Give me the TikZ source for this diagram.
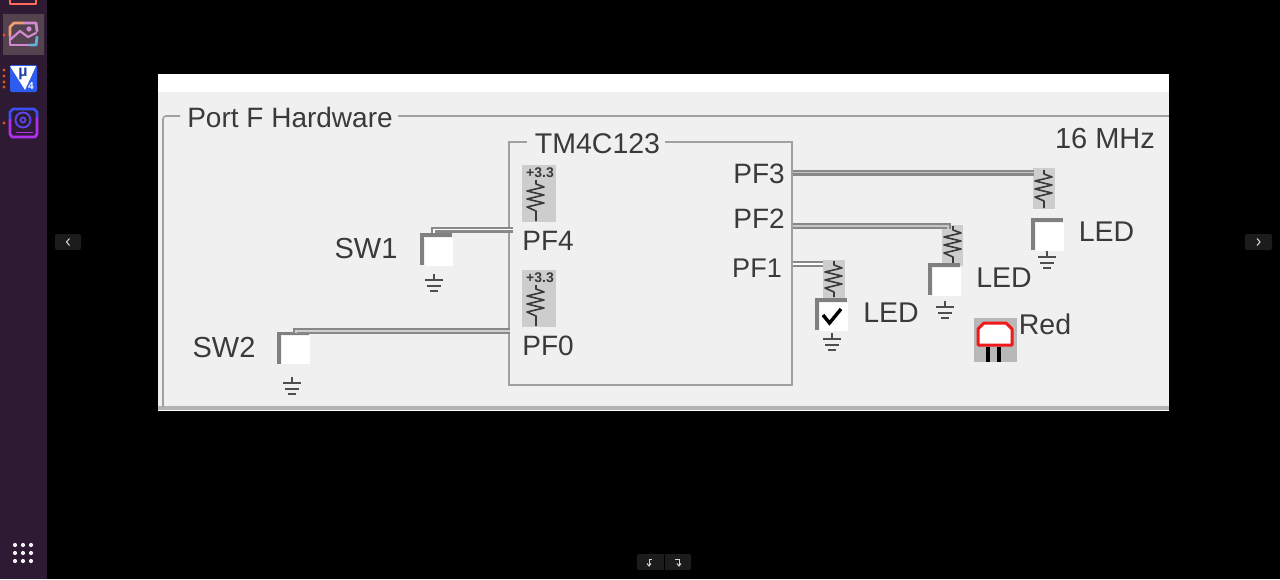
\documentclass[tikz,border=0pt]{standalone}
\usepackage{fontspec}
\setmainfont{Liberation Sans}
\usetikzlibrary{calc}
\definecolor{panel}{HTML}{F0F0F0}
\definecolor{ink}{HTML}{3A3A3A}
\definecolor{frameg}{HTML}{A0A0A0}
\definecolor{resbg}{HTML}{CDCDCD}
\definecolor{sidebar}{HTML}{2E1B33}
\definecolor{hl}{HTML}{54424F}
\definecolor{btn}{HTML}{1C1C1C}
\definecolor{dotor}{HTML}{E0521E}
\definecolor{icopink}{HTML}{D08AD0}
\definecolor{icoorange}{HTML}{F0A070}
\definecolor{icocyan}{HTML}{60B0D8}
\definecolor{icored}{HTML}{FF6A5A}
\definecolor{icoblue}{HTML}{2F5CF0}
\definecolor{icoviolet}{HTML}{B030F0}
\definecolor{iconavy}{HTML}{3A50F0}
\definecolor{ledred}{HTML}{F01818}
\tikzset{
  x=1pt,y=-1pt,
  lab/.style={font=\fontsize{#1}{#1}\selectfont,text=ink,inner sep=0pt,anchor=center},
  lab/.default=28,
  small/.style={font=\bfseries\fontsize{14}{14}\selectfont,text=ink,inner sep=0pt},
  chk/.style={draw=white,line width=1pt,fill=white,minimum size=27pt,inner sep=0pt,outer sep=0pt},
  zz/.style={draw=ink,line width=1.6pt,line join=round},
  gnd/.style={draw=ink!90,line width=2pt},
  wire/.style={draw=frameg!85!black,double=#1,double distance=1.6pt,line width=2.2pt},
  iconline/.style={line width=2.8pt,line cap=round,line join=round},
}
\newcommand{\ckbox}[3]{%
  \node[chk] (#1) at (#2,#3) {};
  \draw[draw=frameg!80!black,line width=3.5pt] ($(#1.south west)+(-3,0)$) -- ($(#1.north west)+(-3,-3)$) -- ($(#1.north east)+(0,-3)$);
}
\newcommand{\zigres}[3]{%
  \draw[zz] (#1+1,#2) -- (#1+1,#2+4)
    -- ++(8,3) -- ++(-17,4) -- ++(17,4) -- ++(-17,4) -- ++(17,4) -- ++(-17,4) -- ++(9,4) -- (#1+1,#3);
}
\newcommand{\gndsym}[2]{%
  \draw[gnd] (#1,#2) -- (#1,#2+6);
  \draw[gnd] (#1-9,#2+6) -- (#1+9,#2+6);
  \draw[gnd] (#1-7,#2+12) -- (#1+7,#2+12);
  \draw[gnd] (#1-4,#2+17) -- (#1+4,#2+17);
}
\begin{document}
\begin{tikzpicture}
\useasboundingbox (0,0) rectangle (1280,579);
\fill[black] (0,0) rectangle (1280,579);
\fill[sidebar] (0,0) rectangle (47,579);
\fill[hl] (3,14) rectangle (44,55);
\draw[iconline,draw=icored] (10,-1) -- (10,4) -- (36,4) -- (36,-1);
% picture icon
\draw[iconline,draw=icoorange] (24,23) -- (14,23) -- (10,27) -- (10,36);
\draw[iconline,draw=icopink] (24,23) -- (36,23) -- (37,31);
\draw[iconline,draw=icopink] (10,36) -- (10,45) -- (30,45);
\draw[iconline,draw=icocyan] (30,45) -- (36,45) -- (37,37);
\draw[iconline,draw=icopink,line width=2.2pt] (11,39) -- (20,31) -- (28,37) -- (36,33);
\fill[icopink] (29,29) circle (2.6);
\fill[dotor] (4,35) circle (1.7);
% mu icon
\fill[icoblue,rounded corners=2pt] (10,65) rectangle (37,92);
\fill[white] (10,66) -- (36,66) -- (25,90) -- cycle;
\node[font=\bfseries\fontsize{16}{16}\selectfont,text=icoblue!70!black,inner sep=0pt] (mu) at (23,74) {µ};
\node[font=\bfseries\fontsize{10}{10}\selectfont,text=white,inner sep=0pt] (four) at (31,86) {4};
\foreach \yy in {70,76,82,87} \fill[dotor] (4,\yy) circle (1.7);
% disc icon
\draw[iconline,draw=iconavy] (10,120) -- (10,112) -- (13,109) -- (34,109) -- (37,112) -- (37,118);
\draw[iconline,draw=icoviolet] (10,120) -- (10,134) -- (12,137) -- (35,137) -- (37,134) -- (37,118);
\draw[draw=iconavy!70!icoviolet,line width=1.8pt] (23,120) circle (7.5);
\draw[draw=iconavy!70!icoviolet,line width=1.6pt] (23,120) circle (2.5);
\draw[draw=icoviolet,line width=1.8pt] (16,132.5) -- (33,132.5);
\fill[dotor] (4,123) circle (1.7);
\foreach \xx in {15,23,31} \foreach \yy in {545,553,561} \fill[white!90!gray] (\xx,\yy) circle (2.1);
% viewer buttons
\fill[btn,rounded corners=2pt] (55,234) rectangle (81,250);
\draw[white!75!gray,line width=1pt] (69.5,238.5) -- (66.5,242) -- (69.5,245.5);
\fill[btn,rounded corners=2pt] (1245,234) rectangle (1272,250);
\draw[white!75!gray,line width=1pt] (1257,238.5) -- (1260,242) -- (1257,245.5);
\fill[btn,rounded corners=2pt] (637,554) rectangle (691,570);
\draw[black,line width=.8pt] (664,554) -- (664,570);
\draw[white!70!gray,line width=1pt] (652,559) -- (649,559) -- (649,566);
\draw[white!70!gray,line width=1pt] (647,563.5) -- (649,566) -- (651,563.5);
\draw[white!70!gray,line width=1pt] (675,559) -- (679,559) -- (679,566);
\draw[white!70!gray,line width=1pt] (677,563.5) -- (679,566) -- (681,563.5);
% panel
\fill[white] (158,74) rectangle (1169,411);
\fill[panel] (158,92) rectangle (1169,406);
\draw[frameg!80,line width=3.5pt] (158,408) -- (1169,408);
\draw[frameg,line width=1.6pt,rounded corners=3pt] (180,116) -- (163,116) -- (163,407);
\draw[frameg,line width=1.6pt] (398,116) -- (1169,116);
\node[lab=28] (title) at (290,117) {Port F Hardware};
\node[lab=29] (clock) at (1105,139) {16 MHz};
% chip
\coordinate (chipNW) at (509,142);
\coordinate (chipSE) at (792,385);
\draw[frameg,line width=1.8pt] (527,142) -- (chipNW) |- (chipSE) |- (665,142);
\node[lab=28.5] (chip) at (597.5,144) {TM4C123};
% left pull-ups
\fill[resbg] (522,165) rectangle (556,222);
\fill[resbg] (522,270) rectangle (556,327);
\node[small] (vcca) at (540,173) {+3.3};
\node[small] (vccb) at (540,278) {+3.3};
\zigres{535}{180}{221}
\zigres{535}{285}{326}
\node[lab=28] (pf4) at (548,241) {PF4};
\node[lab=28] (pf0) at (548,346) {PF0};
\node[lab=28] (pf3) at (759,174) {PF3};
\node[lab=28] (pf2) at (759,219) {PF2};
\node[lab=27] (pf1) at (757,268) {PF1};
% switches
\ckbox{swa}{438.5}{251.5}
\ckbox{swb}{295.5}{350}
\node[lab=29] (swal) at (366,249) {SW1};
\node[lab=29] (swbl) at (224,348) {SW2};
\gndsym{434}{274}
\gndsym{292}{377}
\coordinate (pa) at (513,229.5);
\coordinate (pb) at (510,331);
\draw[wire=white] (pa) -- (434,229.5) -- (434,233);
\draw[wire=frameg!50] (pb) -- (296,331) -- (296,333);
% right pull-downs
\fill[resbg] (1033,168) rectangle (1055,209);
\fill[resbg] (942,225) rectangle (963,266);
\fill[resbg] (823,260) rectangle (845,298);
\zigres{1043}{170}{208}
\zigres{952}{226}{264}
\zigres{833}{261}{297}
\ckbox{leda}{1049.5}{236.5}
\ckbox{ledb}{946.5}{281.5}
\ckbox{ledc}{833.5}{316.5}
\draw[black,line width=3.4pt,line join=miter] (823,315) -- (829.5,323) -- (841,309);
\gndsym{1047}{251}
\gndsym{945}{301}
\gndsym{832}{333}
\node[lab=28.5] (ledal) at (1106.5,232) {LED};
\node[lab=28.5] (ledbl) at (1004,278) {LED};
\node[lab=28.5] (ledcl) at (891,313) {LED};
\coordinate (p3) at (793,172.5);
\coordinate (p2) at (793,226);
\coordinate (p1) at (793,264);
\coordinate (r3) at (1034,172.5);
\coordinate (r2) at (948,226);
\coordinate (r1) at (823,264);
\draw[wire=frameg!60] (p3) -- (r3);
\draw[wire=frameg!60] (p2) -- (r2) -- (948,229);
\draw[wire=white] (p1) -- (r1);
% red LED
\fill[frameg!75] (974,318) rectangle (1017,362);
\draw[ledred,fill=white,line width=3pt,line join=round] (978,345) -- (978,329) -- (984,323) -- (1006,323) -- (1012,329) -- (1012,345) -- cycle;
\draw[black,line width=4.5pt] (988,347) -- (988,362);
\draw[black,line width=4.5pt] (999,347) -- (999,362);
\node[lab=28.5] (redl) at (1045,324) {Red};
\end{tikzpicture}
\end{document}
